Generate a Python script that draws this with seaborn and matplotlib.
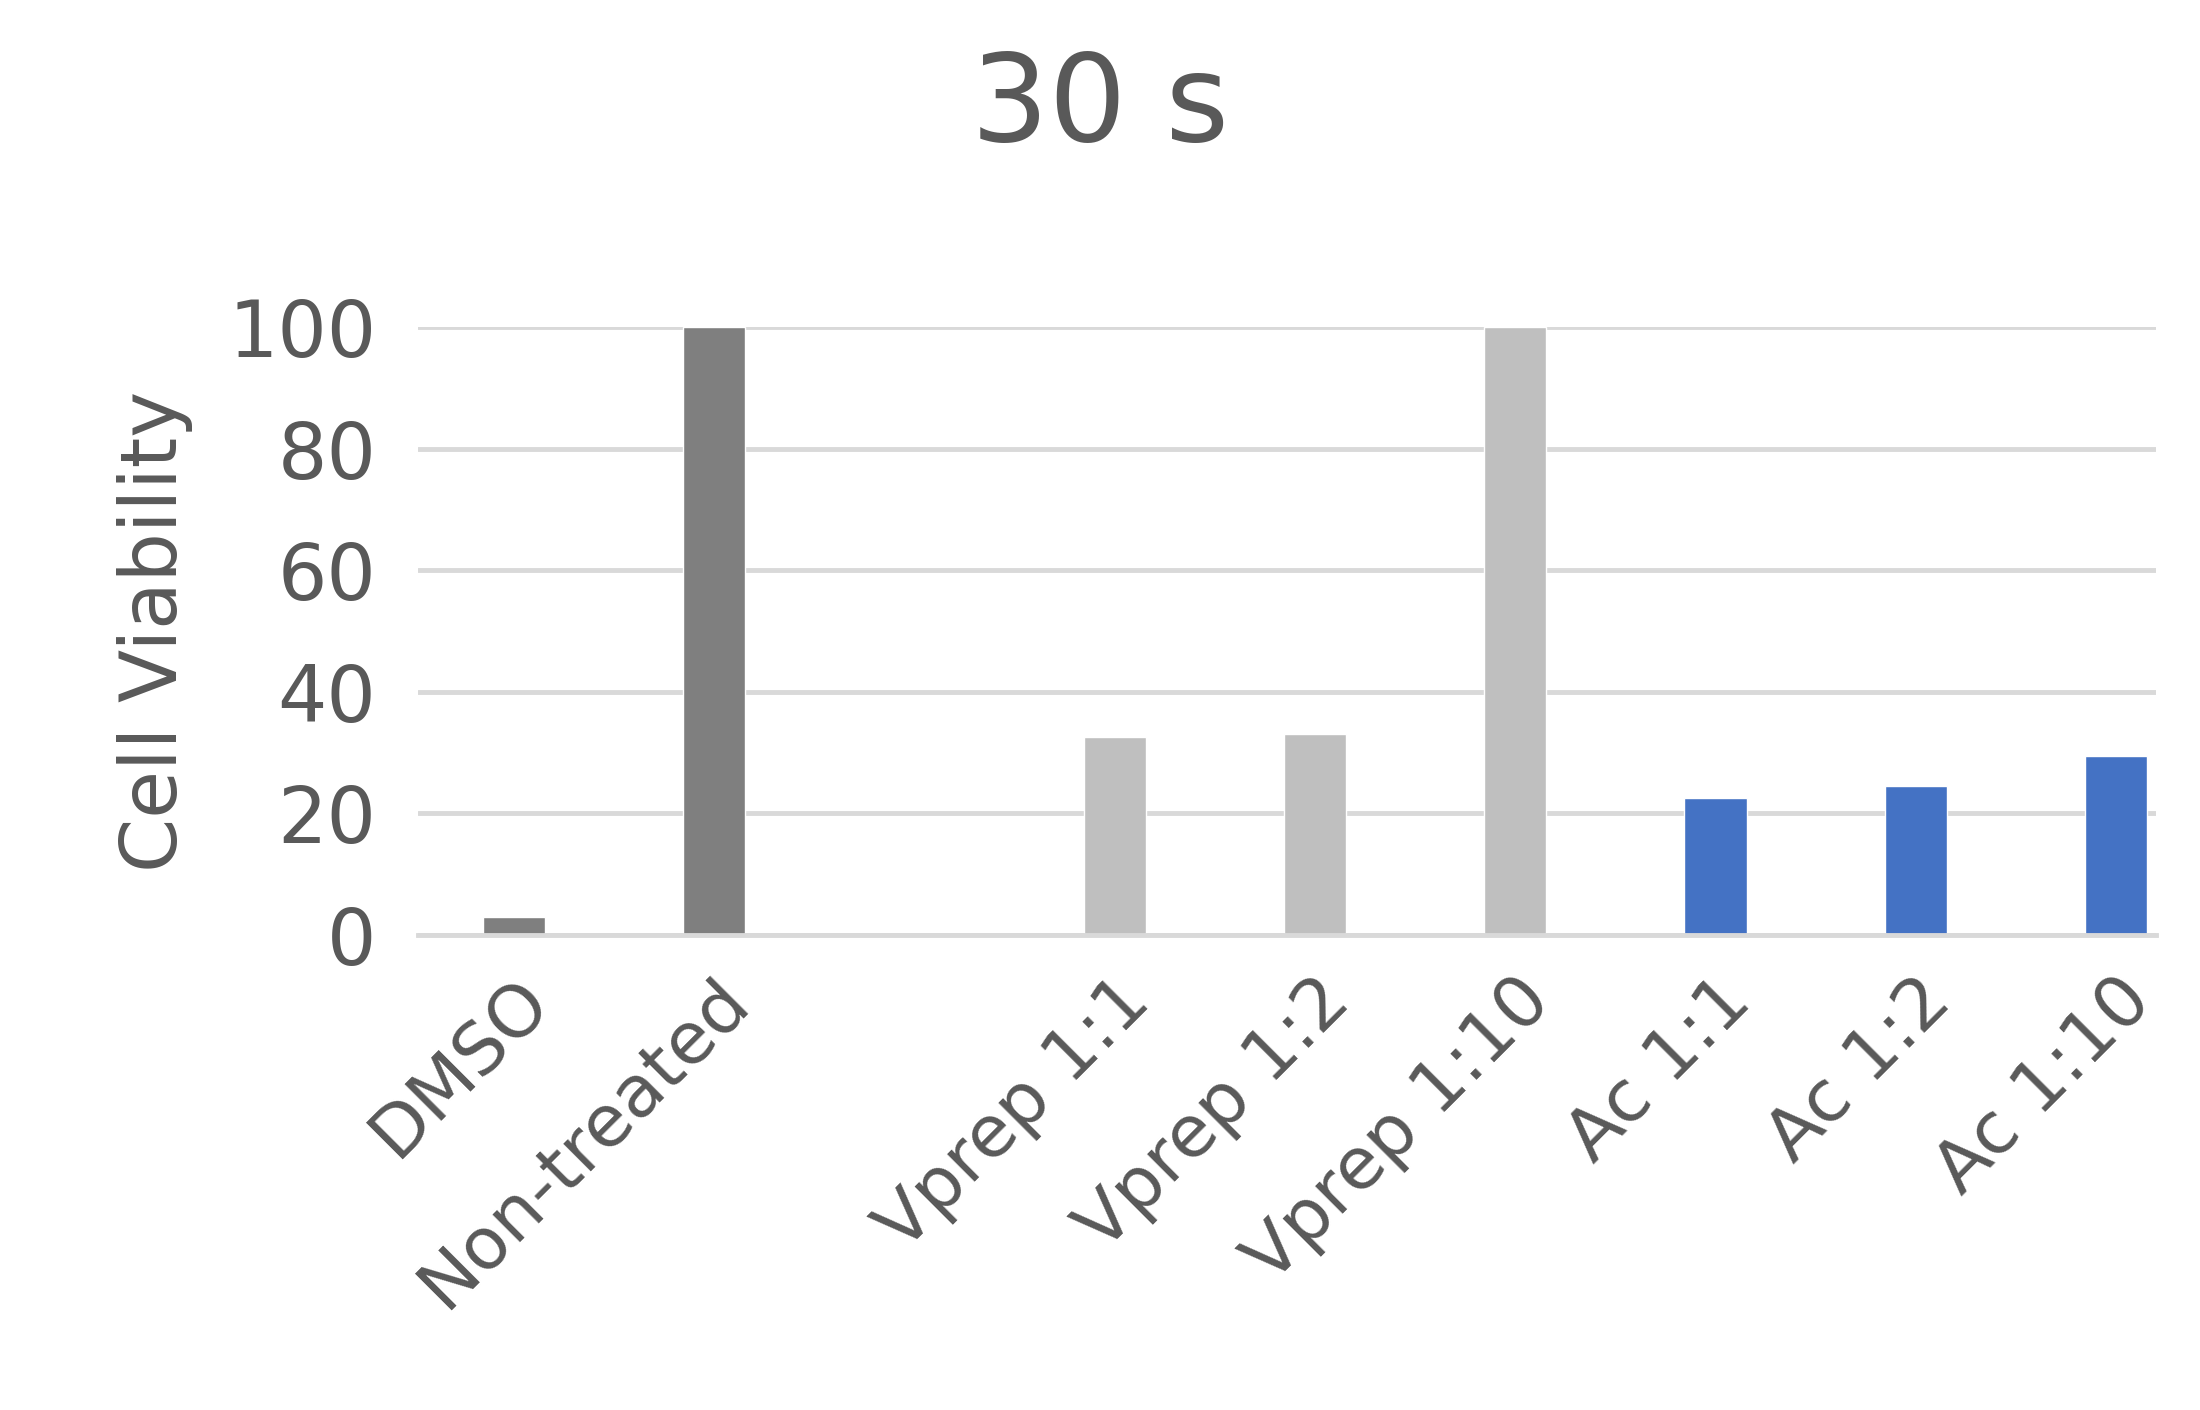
import matplotlib
matplotlib.use("Agg")
import matplotlib.pyplot as plt
import seaborn as sns
import pandas as pd
import numpy as np

categories = ["DMSO", "Non-treated", " ", "Vprep 1:1", "Vprep 1:2", "Vprep 1:10", "Ac 1:1", "Ac 1:2", "Ac 1:10"]
values = [3, 100, np.nan, 32.5, 33, 100, 22.5, 24.5, 29.5]
colors = ["#7f7f7f", "#7f7f7f", "#ffffff", "#bfbfbf", "#bfbfbf", "#bfbfbf", "#4472c4", "#4472c4", "#4472c4"]

sns.set_theme(style="white")
plt.rcParams['font.family'] = ['DejaVu Sans']
txt = "#595959"

df = pd.DataFrame({"cat": categories, "val": values})
fig = plt.figure(figsize=(22, 14.1), dpi=100)
ax = fig.add_axes([0.19, 0.337, 0.79, 0.431])
sns.barplot(data=df, x="cat", y="val", hue="cat", order=categories, hue_order=categories,
            palette=dict(zip(categories, colors)), width=0.31, legend=False, ax=ax, saturation=1)
ax.set_ylim(0, 100)
ax.set_xlim(-0.48, 8.2)
ax.set_yticks([0, 20, 40, 60, 80, 100])
ax.yaxis.grid(True, color="#d9d9d9", linewidth=3.5)
ax.set_axisbelow(True)
for s in ["top", "right", "left"]:
    ax.spines[s].set_visible(False)
ax.spines["bottom"].set_color("#d9d9d9")
ax.spines["bottom"].set_linewidth(3.5)
ax.tick_params(axis="y", labelsize=56, colors=txt, length=0, pad=30)
ax.tick_params(axis="x", labelsize=52, colors=txt, length=0, pad=22)
plt.setp(ax.get_xticklabels(), rotation=45, ha="right", rotation_mode="anchor")
ax.set_xlabel("")
ax.set_ylabel("Cell Viability", fontsize=56, color=txt, labelpad=25)
fig.suptitle("30 s", fontsize=88, color=txt, y=0.965)
fig.savefig("out.png", dpi=100, facecolor="white")
